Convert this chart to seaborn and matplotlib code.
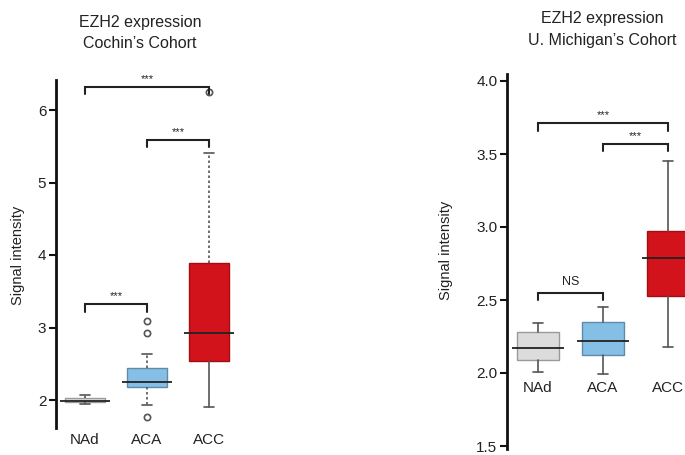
import matplotlib
matplotlib.use("Agg")
import matplotlib.pyplot as plt
import seaborn as sns

# ------------------------------------------------
# DATA (box summaries)
# ------------------------------------------------
groups = ["NAd", "ACA", "ACC"]
colors = ["#dcdcdc", "#85bfe6", "#d2131c"]
edges = ["#9a9a9a", "#5f8aa8", "#a30e15"]

# Cochin's cohort
cochin_q1 = [1.97, 2.18, 2.54]
cochin_med = [1.99, 2.25, 2.92]
cochin_q3 = [2.03, 2.44, 3.89]
cochin_lo = [1.95, 1.93, 1.91]
cochin_hi = [2.07, 2.63, 5.41]
cochin_fliers = [[], [3.09, 2.92, 1.77], [6.25]]

# U. Michigan's cohort
mich_q1 = [2.09, 2.12, 2.53]
mich_med = [2.17, 2.22, 2.79]
mich_q3 = [2.28, 2.35, 2.97]
mich_lo = [2.01, 1.99, 2.18]
mich_hi = [2.34, 2.45, 3.45]
mich_fliers = [[], [], []]

# significance brackets: (left group, right group, height, label)
cochin_sig = [(0, 2, 6.32, "***"), (1, 2, 5.59, "***"), (0, 1, 3.32, "***")]
mich_sig = [(0, 2, 3.71, "***"), (1, 2, 3.57, "***"), (0, 1, 2.55, "NS")]

sns.set_theme(style="ticks")
plt.rcParams["font.family"] = ["Liberation Sans", "DejaVu Sans"]

fig = plt.figure(figsize=(6.85, 4.55), dpi=100)
H = 455.0
W = 685.0


def panel(rect, q1, med, q3, lo, hi, fliers, sig, ylim, bounds, yticks,
          ticklabels, xlim, lab_y, dotted, tick_drop, star_size):
    ax = fig.add_axes(rect)
    stats = []
    for i in range(3):
        stats.append({"q1": q1[i], "med": med[i], "q3": q3[i],
                      "whislo": lo[i], "whishi": hi[i], "fliers": fliers[i]})
    res = ax.bxp(stats, positions=range(3), widths=0.65, patch_artist=True,
                 showfliers=True, manage_ticks=False,
                 medianprops=dict(color="#222222", linewidth=1.3),
                 whiskerprops=dict(color="#555555", linewidth=1.2),
                 capprops=dict(color="#555555", linewidth=1.2),
                 capwidths=0.15,
                 flierprops=dict(marker="o", markersize=4.5, markerfacecolor="none",
                                 markeredgecolor="#555555", markeredgewidth=1.2))
    for i, box in enumerate(res["boxes"]):
        box.set_facecolor(colors[i])
        box.set_edgecolor(edges[i])
        box.set_linewidth(1.0)
    # median lines reach a bit past the box
    for m in res["medians"]:
        x0, x1 = m.get_xdata()[0], m.get_xdata()[1]
        c = (x0 + x1) / 2
        m.set_xdata([c - 0.4, c + 0.4])
    for j, w in enumerate(res["whiskers"]):
        if dotted[j]:
            w.set_linestyle((0, (1.5, 1.5)))

    ax.set_xlim(*xlim)
    ax.set_ylim(*ylim)
    ax.set_yticks(yticks)
    ax.set_yticklabels(ticklabels, fontsize=11, color="#222222")
    ax.tick_params(axis="y", length=5, width=1.5, color="#111111", pad=2)
    ax.set_xticks([])
    for s in ["top", "right", "bottom"]:
        ax.spines[s].set_visible(False)
    ax.spines["left"].set_linewidth(2)
    ax.spines["left"].set_color("#111111")
    ax.spines["left"].set_bounds(*bounds)
    ax.set_facecolor("none")

    for i, g in enumerate(groups):
        ax.text(i, lab_y, g, ha="center", va="center", fontsize=11,
                color="#222222", clip_on=False)

    for a, b, h, lab in sig:
        ax.plot([a, a, b, b], [h - tick_drop, h, h, h - tick_drop],
                color="#222222", linewidth=1.5, clip_on=False,
                solid_joinstyle="miter")
        if lab == "NS":
            ax.text((a + b) / 2, h + tick_drop * 0.6, lab, ha="center",
                    va="bottom", fontsize=9, color="#222222")
        else:
            ax.text((a + b) / 2, h + tick_drop * 0.4, lab, ha="center",
                    va="bottom", fontsize=star_size, color="#222222")
    return ax


# left panel: spine x=56, cats at 85/147/209, 72.5 px per unit, 2 at y=400
left_l = 56 / W
left_w = (250 - 56) / W
y_top_px, y_bot_px = 60, 428
lv_bot = 2 - (y_bot_px - 400) / 72.5
lv_top = 2 + (400 - y_top_px) / 72.5
panel([left_l, (H - y_bot_px) / H, left_w, (y_bot_px - y_top_px) / H],
      cochin_q1, cochin_med, cochin_q3, cochin_lo, cochin_hi, cochin_fliers,
      cochin_sig, (lv_bot, lv_top), (lv_bot, 6.41), [2, 3, 4, 5, 6],
      ["2", "3", "4", "5", "6"], (-29 / 62, (250 - 85) / 62), 1.45,
      [True, True, True, True, False, True], 0.1, 8)

# right panel: spine x=507, cats at 538/603/668, 146 px per unit, 2.0 at y=373
r_top_px, r_bot_px = 60, 452
rv_bot = 2 - (r_bot_px - 373) / 146
rv_top = 2 + (373 - r_top_px) / 146
panel([507 / W, (H - r_bot_px) / H, (W - 507) / W, (r_bot_px - r_top_px) / H],
      mich_q1, mich_med, mich_q3, mich_lo, mich_hi, mich_fliers,
      mich_sig, (rv_bot, rv_top), (1.48, 4.05), [1.5, 2.0, 2.5, 3.0, 3.5, 4.0],
      ["1.5", "2.0", "2.5", "3.0", "3.5", "4.0"], (-31 / 65, (W - 538) / 65), 1.90,
      [False] * 6, 0.05, 8)

# titles and axis labels
fig.text(140 / W, 1 - 22 / H, "EZH2 expression", ha="center", va="center",
         fontsize=11.5, color="#222222")
fig.text(140 / W, 1 - 43 / H, "Cochin\u2019s Cohort", ha="center", va="center",
         fontsize=11.5, color="#222222")
fig.text(602 / W, 1 - 18 / H, "EZH2 expression", ha="center", va="center",
         fontsize=11.5, color="#222222")
fig.text(602 / W, 1 - 40 / H, "U. Michigan\u2019s Cohort", ha="center",
         va="center", fontsize=11.5, color="#222222")
fig.text(18 / W, 1 - 255 / H, "Signal intensity", rotation=90, ha="center",
         va="center", fontsize=10.5, color="#222222")
fig.text(446 / W, 1 - 250 / H, "Signal intensity", rotation=90, ha="center",
         va="center", fontsize=10.5, color="#222222")

fig.savefig("out.png", dpi=100, facecolor="white")
